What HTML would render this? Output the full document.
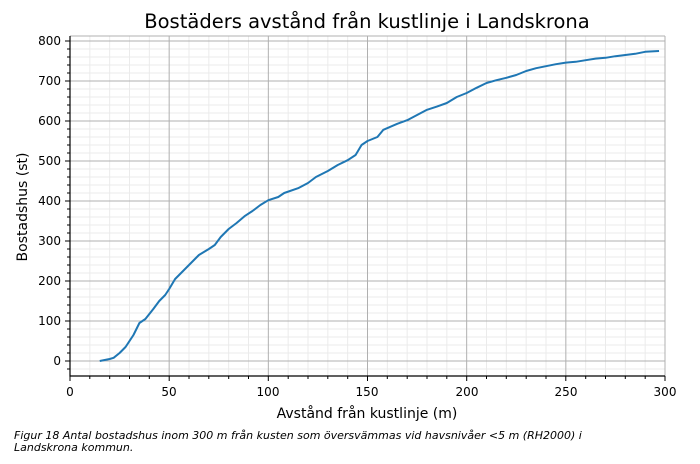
<!DOCTYPE html><html><head><style>body{margin:0;background:#fff}svg{font-family:"DejaVu Sans","Liberation Sans",sans-serif}</style></head><body>
<svg width="700" height="459" xmlns="http://www.w3.org/2000/svg">
<rect width="700" height="459" fill="#fff"/>
<text x="367" y="28" font-size="19.5" text-anchor="middle">Bostäders avstånd från kustlinje i Landskrona</text>
<g transform="translate(70,361) scale(1.98333,-0.4)" fill="none">
<path stroke="#ebebeb" vector-effect="non-scaling-stroke" d="M10,-37.5V812.5M20,-37.5V812.5M30,-37.5V812.5M40,-37.5V812.5M60,-37.5V812.5M70,-37.5V812.5M80,-37.5V812.5M90,-37.5V812.5M110,-37.5V812.5M120,-37.5V812.5M130,-37.5V812.5M140,-37.5V812.5M160,-37.5V812.5M170,-37.5V812.5M180,-37.5V812.5M190,-37.5V812.5M210,-37.5V812.5M220,-37.5V812.5M230,-37.5V812.5M240,-37.5V812.5M260,-37.5V812.5M270,-37.5V812.5M280,-37.5V812.5M290,-37.5V812.5
M0,-20H300M0,20H300M0,40H300M0,60H300M0,80H300M0,120H300M0,140H300M0,160H300M0,180H300M0,220H300M0,240H300M0,260H300M0,280H300M0,320H300M0,340H300M0,360H300M0,380H300M0,420H300M0,440H300M0,460H300M0,480H300M0,520H300M0,540H300M0,560H300M0,580H300M0,620H300M0,640H300M0,660H300M0,680H300M0,720H300M0,740H300M0,760H300M0,780H300"/>
<path stroke="#b0b0b0" vector-effect="non-scaling-stroke" d="M50,-37.5V812.5M100,-37.5V812.5M150,-37.5V812.5M200,-37.5V812.5M250,-37.5V812.5M300,-37.5V812.5M0,0H300M0,100H300M0,200H300M0,300H300M0,400H300M0,500H300M0,600H300M0,700H300M0,800H300M0,812.5H300"/>
<polyline stroke="#1f77b4" stroke-width="2" vector-effect="non-scaling-stroke" stroke-linejoin="round" points="15,0 20,5 22,8 25,20 28,35 32,65 35,95 38,105 42,130 45,150 48,165 50,180 53,205 56,220 60,240 65,265 70,280 73,290 76,310 80,330 84,345 88,362 92,375 96,390 100,402 105,410 108,420 115,432 120,445 124,460 130,475 135,490 140,502 144,515 147,540 150,550 155,560 158,578 165,593 170,602 175,615 180,628 185,636 190,645 195,660 200,670 205,683 210,695 215,702 220,708 225,715 230,725 235,732 240,737 245,742 250,746 255,748 260,752 265,756 270,758 275,762 280,765 285,768 290,773 297,775"/>
</g>
<path stroke="#000" stroke-width="1.2" fill="none" d="M70,36V376H665"/>
<g stroke="#000" stroke-width="1">
<path d="M70,376v5M169.2,376v5M268.3,376v5M367.5,376v5M466.7,376v5M565.8,376v5M665,376v5"/>
<path d="M70,361h-5M70,321h-5M70,281h-5M70,241h-5M70,201h-5M70,161h-5M70,121h-5M70,81h-5M70,41h-5"/>
<path d="M89.8,376v3M109.7,376v3M129.5,376v3M149.3,376v3M189,376v3M208.8,376v3M228.7,376v3M248.5,376v3M288.2,376v3M308,376v3M327.8,376v3M347.7,376v3M387.3,376v3M407.2,376v3M427,376v3M446.8,376v3M486.5,376v3M506.3,376v3M526.2,376v3M546,376v3M585.7,376v3M605.5,376v3M625.3,376v3M645.2,376v3"/>
<path d="M70,369h-3M70,353h-3M70,345h-3M70,337h-3M70,329h-3M70,313h-3M70,305h-3M70,297h-3M70,289h-3M70,273h-3M70,265h-3M70,257h-3M70,249h-3M70,233h-3M70,225h-3M70,217h-3M70,209h-3M70,193h-3M70,185h-3M70,177h-3M70,169h-3M70,153h-3M70,145h-3M70,137h-3M70,129h-3M70,113h-3M70,105h-3M70,97h-3M70,89h-3M70,73h-3M70,65h-3M70,57h-3M70,49h-3"/>
</g>
<g font-size="12" text-anchor="middle">
<text x="70" y="396">0</text><text x="169" y="396">50</text><text x="268" y="396">100</text><text x="367" y="396">150</text><text x="467" y="396">200</text><text x="566" y="396">250</text><text x="665" y="396">300</text>
</g>
<g font-size="12" text-anchor="end">
<text x="61" y="365">0</text><text x="61" y="325">100</text><text x="61" y="285">200</text><text x="61" y="245">300</text><text x="61" y="205">400</text><text x="61" y="165">500</text><text x="61" y="125">600</text><text x="61" y="85">700</text><text x="61" y="45">800</text>
</g>
<text x="367" y="418" font-size="14" text-anchor="middle">Avstånd från kustlinje (m)</text>
<text transform="translate(27,207) rotate(-90)" font-size="14" text-anchor="middle">Bostadshus (st)</text>
<text x="14" y="439" font-size="11" font-style="italic">Figur 18 Antal bostadshus inom 300 m från kusten som översvämmas vid havsnivåer &lt;5 m (RH2000) i</text>
<text x="14" y="451" font-size="11" font-style="italic">Landskrona kommun.</text>
</svg>
</body></html>
